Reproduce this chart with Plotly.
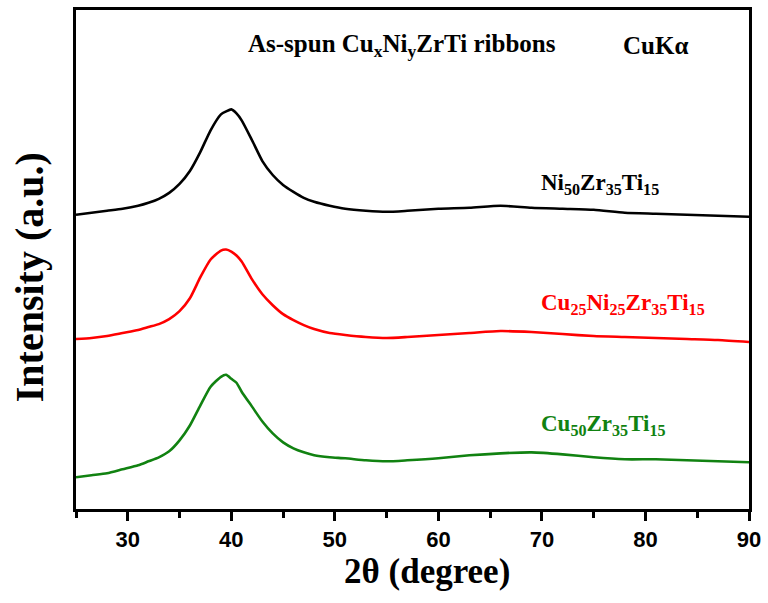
import plotly.graph_objects as go

two_theta = [25, 26.5, 28, 29.5, 31, 32, 33, 34, 35, 36, 37, 38, 39, 39.5, 40, 40.5, 41, 42,
             43, 44, 45, 46, 47, 48, 49.5, 51, 53, 55, 57, 60, 63, 66, 69, 72, 75, 78, 81,
             84, 87, 90]

ni50 = [296, 298, 300, 302, 305, 308, 312, 318, 327, 340, 359, 381, 397, 400, 402, 398, 391,
        371, 350, 336, 326, 319, 313, 309, 305, 302, 300, 299, 300, 302, 303, 305, 303, 302,
        301, 298, 297, 296, 295, 294]

cu25ni25 = [171, 172, 174, 177, 180, 183, 186, 191, 199, 212, 233, 251, 260, 261, 259, 255,
            249, 231, 216, 205, 196, 190, 185, 181, 177, 175, 173, 172, 173, 175, 177, 179,
            178, 176, 174, 173, 172, 171, 170, 168]

cu50 = [32, 34, 36, 40, 44, 48, 52, 58, 69, 84, 104, 123, 133, 135, 131, 127, 118, 103, 88,
        76, 67, 61, 57, 54, 52, 51, 49, 48, 49, 51, 54, 56, 57, 55, 52, 50, 50, 49, 48, 47]

x_ticks = [30, 40, 50, 60, 70, 80, 90]

serif = "Liberation Serif"
sans = "Liberation Sans"

fig = go.Figure()
for ys, col in [(ni50, "#000000"), (cu25ni25, "#ff0000"), (cu50, "#118211")]:
    fig.add_trace(go.Scatter(x=two_theta, y=ys, mode="lines",
                             line=dict(color=col, width=2.6, shape="spline", smoothing=0.6),
                             showlegend=False))

annotations = [
    dict(x=41.4, y=466, text="<b>As-spun Cu<sub>x</sub>Ni<sub>y</sub>ZrTi ribbons</b>",
         color="#000000", size=25),
    dict(x=77.6, y=466, text="<b>CuKα</b>", color="#000000", size=25),
    dict(x=69.7, y=327, text="<b>Ni<sub>50</sub>Zr<sub>35</sub>Ti<sub>15</sub></b>",
         color="#000000", size=23),
    dict(x=69.7, y=206, text="<b>Cu<sub>25</sub>Ni<sub>25</sub>Zr<sub>35</sub>Ti<sub>15</sub></b>",
         color="#ff0000", size=23),
    dict(x=69.7, y=85, text="<b>Cu<sub>50</sub>Zr<sub>35</sub>Ti<sub>15</sub></b>",
         color="#118211", size=23),
]
for a in annotations:
    fig.add_annotation(x=a["x"], y=a["y"], xref="x", yref="y", text=a["text"],
                       showarrow=False, xanchor="left", yanchor="middle",
                       font=dict(family=serif, size=a["size"], color=a["color"]))

# axis titles
fig.add_annotation(x=-0.068, y=0.465, xref="paper", yref="paper",
                   text="<b>Intensity (a.u.)</b>", textangle=-90, showarrow=False,
                   xanchor="center", yanchor="middle",
                   font=dict(family=serif, size=40, color="#000000"))
fig.add_annotation(x=0.521, y=-0.125, xref="paper", yref="paper",
                   text="<b>2θ (degree)</b>", showarrow=False,
                   xanchor="center", yanchor="middle",
                   font=dict(family=serif, size=35, color="#000000"))

fig.update_layout(
    width=768, height=603,
    margin=dict(l=76, r=18, t=7, b=94),
    paper_bgcolor="white", plot_bgcolor="white",
    xaxis=dict(range=[25, 90], tickvals=x_ticks, ticks="outside", ticklen=9, tickwidth=2.5,
               tickcolor="black", showline=True, linewidth=3, linecolor="black", mirror=True,
               showgrid=False, zeroline=False,
               tickfont=dict(family=sans, size=22, color="black", weight="bold"),
               minor=dict(ticks="outside", ticklen=6, tickwidth=2.5, dtick=5, tick0=25,
                          tickcolor="black", showgrid=False)),
    yaxis=dict(range=[0, 502], showticklabels=False, ticks="", showline=True, linewidth=3,
               linecolor="black", mirror=True, showgrid=False, zeroline=False),
)

fig.write_html("out.html")
